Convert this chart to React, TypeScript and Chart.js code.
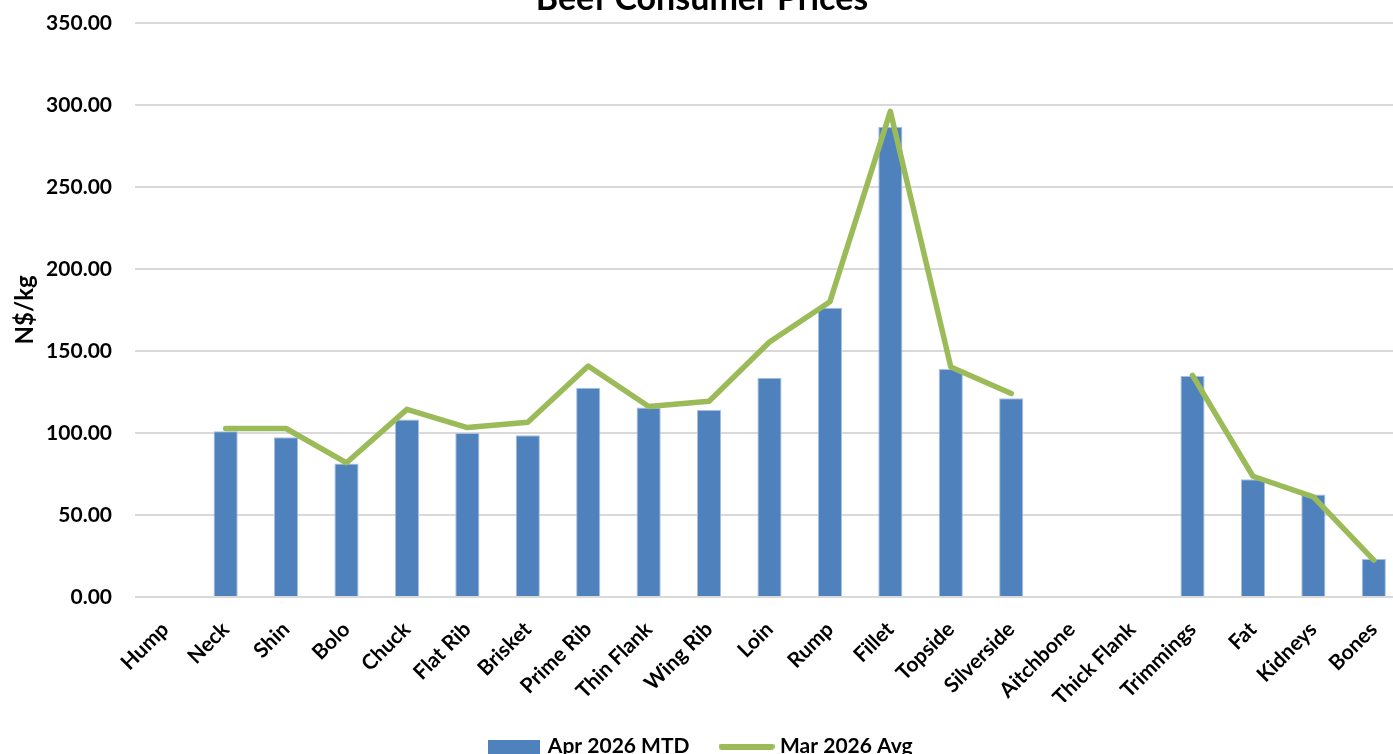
import { useEffect, useRef } from "react";
import { Chart, registerables } from "chart.js";

Chart.register(...registerables);

const TITLE = "Beef Consumer Prices";
const Y_TITLE = "N$/kg";
const CATEGORIES = [
  "Hump", "Neck", "Shin", "Bolo", "Chuck", "Flat Rib", "Brisket", "Prime Rib",
  "Thin Flank", "Wing Rib", "Loin", "Rump", "Fillet", "Topside", "Silverside",
  "Aitchbone", "Thick Flank", "Trimmings", "Fat", "Kidneys", "Bones",
];
const BAR_LABEL = "Apr 2026 MTD";
const LINE_LABEL = "Mar 2026 Avg";
const APR_2026_MTD = [
  null, 101.0, 97.4, 81.4, 108.2, 100.0, 98.6, 127.6, 115.5, 114.0, 133.7,
  176.3, 286.7, 139.0, 121.1, null, null, 134.7, 71.8, 62.5, 23.1,
];
const MAR_2026_AVG = [
  null, 102.7, 102.7, 81.8, 114.4, 103.3, 106.5, 140.8, 116.1, 119.3, 155.4,
  180.0, 296.0, 140.2, 124.0, null, null, 135.1, 73.6, 61.0, 22.5,
];
const Y_MIN = 0;
const Y_MAX = 350;
const Y_STEP = 50;

const BLUE = "#4F81BD";
const GREEN = "#9BBB59";

function makeSwatch(w: number, h: number, color: string, round: boolean) {
  const c = document.createElement("canvas");
  c.width = w;
  c.height = h;
  const ctx = c.getContext("2d")!;
  ctx.fillStyle = color;
  if (round) {
    const r = h / 2;
    ctx.beginPath();
    ctx.moveTo(r, 0);
    ctx.lineTo(w - r, 0);
    ctx.arc(w - r, r, r, -Math.PI / 2, Math.PI / 2);
    ctx.lineTo(r, h);
    ctx.arc(r, r, r, Math.PI / 2, (3 * Math.PI) / 2);
    ctx.closePath();
    ctx.fill();
  } else {
    ctx.fillRect(0, 0, w, h);
  }
  return c;
}

export default function App() {
  const ref = useRef<HTMLCanvasElement | null>(null);

  useEffect(() => {
    if (!ref.current) return;
    const blueSwatch = makeSwatch(52, 14, BLUE, false);
    const greenSwatch = makeSwatch(56, 6, GREEN, true);
    const font = "Lato";
    const chart = new Chart(ref.current, {
      type: "bar",
      data: {
        labels: CATEGORIES,
        datasets: [
          {
            type: "bar",
            label: BAR_LABEL,
            data: APR_2026_MTD,
            backgroundColor: BLUE,
            borderColor: "#A9C0DF",
            borderWidth: 1,
            barPercentage: 0.4,
            categoryPercentage: 1,
            order: 1,
          },
          {
            type: "line",
            label: LINE_LABEL,
            data: MAR_2026_AVG,
            borderColor: GREEN,
            backgroundColor: GREEN,
            borderWidth: 5.5,
            pointRadius: 0,
            borderCapStyle: "round",
            borderJoinStyle: "round",
            spanGaps: false,
            tension: 0,
            order: 0,
          },
        ],
      } as any,
      options: {
        responsive: true,
        maintainAspectRatio: false,
        animation: false,
        events: [],
        layout: { padding: 0 },
        color: "#000",
        plugins: {
          title: {
            display: true,
            text: TITLE,
            color: "#000",
            font: { family: font, size: 34, weight: "bold" },
            padding: { top: 1, bottom: 3 },
          },
          tooltip: { enabled: false },
          legend: {
            display: true,
            position: "bottom",
            labels: {
              usePointStyle: true,
              pointStyleWidth: 46,
              padding: 34,
              color: "#000",
              font: { family: font, size: 21, weight: "bold" },
              generateLabels: () => [
                {
                  text: BAR_LABEL,
                  fillStyle: BLUE,
                  strokeStyle: BLUE,
                  lineWidth: 0,
                  pointStyle: blueSwatch as any,
                  datasetIndex: 0,
                  hidden: false,
                  fontColor: "#000",
                },
                {
                  text: LINE_LABEL,
                  fillStyle: GREEN,
                  strokeStyle: GREEN,
                  lineWidth: 0,
                  pointStyle: greenSwatch as any,
                  datasetIndex: 1,
                  hidden: false,
                  fontColor: "#000",
                },
              ],
            },
          },
        },
        scales: {
          x: {
            grid: { display: false },
            border: { display: false },
            ticks: {
              color: "#000",
              font: { family: font, size: 21, weight: "bold" },
              minRotation: 45,
              maxRotation: 45,
              autoSkip: false,
              padding: 12,
            },
            afterFit: (scale: any) => {
              scale.height = 105;
            },
          },
          y: {
            min: Y_MIN,
            max: Y_MAX,
            grid: { color: "#D9D9D9", lineWidth: 2, drawTicks: false },
            border: { display: false },
            ticks: {
              stepSize: Y_STEP,
              color: "#000",
              padding: 23,
              font: { family: font, size: 21, weight: "bold" },
              callback: (v: any) => Number(v).toFixed(2),
            },
            title: {
              display: true,
              text: Y_TITLE,
              color: "#000",
              font: { family: font, size: 24, weight: "bold" },
              padding: { top: 11, bottom: 0 },
            },
            afterFit: (scale: any) => {
              scale.width = 135;
            },
          },
        },
      } as any,
    });
    return () => chart.destroy();
  }, []);

  return (
    <div
      style={{
        position: "fixed",
        left: 0,
        top: -22,
        width: 1404,
        height: 789,
        background: "#fff",
      }}
    >
      <canvas ref={ref} />
    </div>
  );
}
